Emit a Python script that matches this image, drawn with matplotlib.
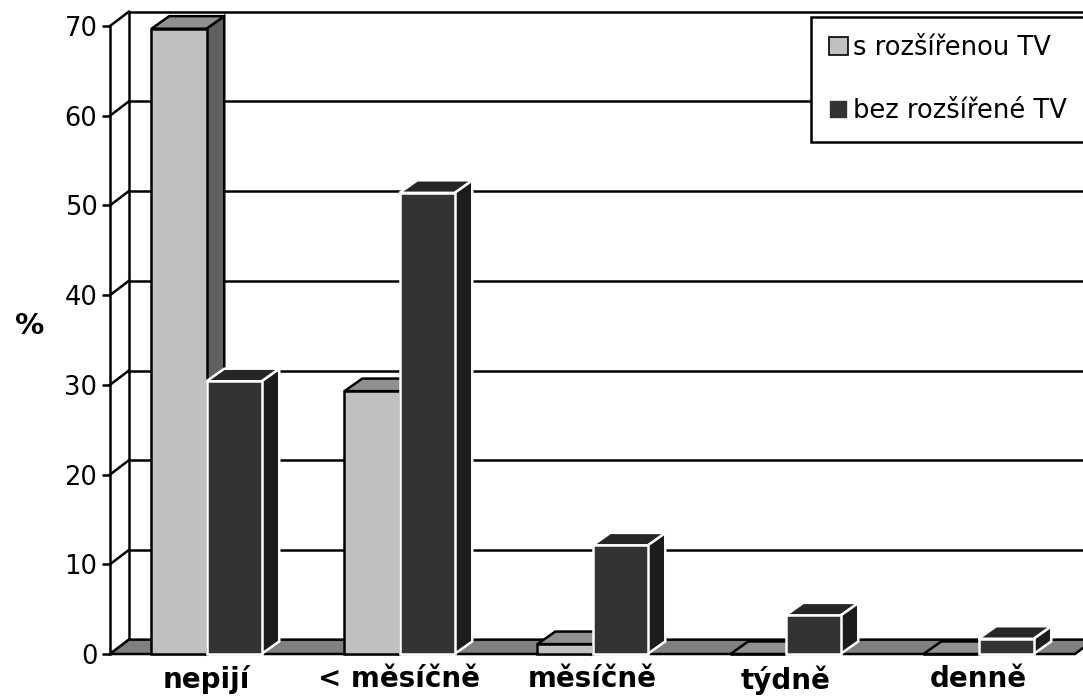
import numpy as np
import matplotlib.pyplot as plt
from matplotlib.patches import Polygon, Patch

# kategorie a podíly (%)
categories = ['nepijí', '< měsíčně', 'měsíčně', 'týdně', 'denně']
s_tv = [69.7, 29.3, 1.1, 0.0, 0.0]
bez_tv = [30.4, 51.4, 12.1, 4.3, 1.7]
series_names = ['s rozšířenou TV', 'bez rozšířené TV']
yticks = np.arange(0, 71, 10)

# barvy stěn sloupců: (čelo, vršek, bok, hrany)
light = ('#c0c0c0', '#909090', '#606060', 'black')
dark = ('#333333', '#262626', '#1c1c1c', 'white')

plt.rcParams['font.family'] = ['DejaVu Sans']

fig = plt.figure(figsize=(10.83, 7.0), dpi=100)
ax = fig.add_axes([110 / 1083, 46 / 700, 965 / 1083, 628 / 700])
ax.set_xlim(-0.5, 4.5)
ax.set_ylim(0, 70)

# hloubka "3D" efektu v datových jednotkách
dx, dy = 0.098, 1.6
bw = 0.285          # šířka jednoho sloupce
bdx, bdy = 0.092, 1.4

x0, x1 = -0.5, 4.5
lw = 1.8

# zadní stěna - mřížka
for v in yticks:
    ax.plot([x0 + dx, x1 + dx], [v + dy, v + dy], color='black', lw=lw,
            clip_on=False, zorder=1)
ax.plot([x0 + dx, x0 + dx], [dy, 70 + dy], color='black', lw=lw,
        clip_on=False, zorder=1)
# boční stěna - šikmé čáry
for v in yticks:
    ax.plot([x0, x0 + dx], [v, v + dy], color='black', lw=lw,
            clip_on=False, zorder=1)

# podlaha
floor = Polygon([(x0, 0), (x1, 0), (x1 + dx, dy), (x0 + dx, dy)],
                closed=True, facecolor='#808080', edgecolor='black',
                lw=lw, clip_on=False, zorder=2)
ax.add_patch(floor)


def bar3d(left, h, colors):
    face, top, side, edge = colors
    r = left + bw
    ax.add_patch(Polygon([(r, 0), (r + bdx, bdy), (r + bdx, h + bdy), (r, h)],
                         facecolor=side, edgecolor=edge, lw=lw,
                         clip_on=False, zorder=3))
    ax.add_patch(Polygon([(left, h), (r, h), (r + bdx, h + bdy),
                          (left + bdx, h + bdy)],
                         facecolor=top, edgecolor=edge, lw=lw,
                         clip_on=False, zorder=3))
    ax.add_patch(Polygon([(left, 0), (r, 0), (r, h), (left, h)],
                         facecolor=face, edgecolor=edge, lw=lw,
                         clip_on=False, zorder=3))


for i in range(len(categories)):
    bar3d(i - bw, s_tv[i], light)
    bar3d(i, bez_tv[i], dark)

# osy
for s in ['top', 'right', 'bottom']:
    ax.spines[s].set_visible(False)
ax.spines['left'].set_linewidth(lw)
ax.spines['left'].set_zorder(5)
ax.set_yticks(yticks)
ax.tick_params(axis='y', length=6, width=lw, labelsize=18.5, pad=3)
ax.set_xticks(range(len(categories)))
ax.set_xticklabels(categories, fontsize=20, fontweight='bold')
ax.tick_params(axis='x', length=0, pad=8)
ax.set_ylabel('%', rotation=0, fontsize=21, fontweight='bold')
ax.yaxis.set_label_coords(-0.083, 0.5)
ax.patch.set_visible(False)

handles = [Patch(facecolor=light[0], edgecolor='black', lw=1.2),
           Patch(facecolor=dark[0], edgecolor='white', lw=1.2)]
leg = fig.legend(handles, series_names, loc='upper left',
                 bbox_to_anchor=(811 / 1083, 1 - 17 / 700),
                 fontsize=18.5, frameon=True, fancybox=False,
                 edgecolor='black', framealpha=1, borderpad=0.7,
                 handlelength=0.75, handleheight=0.75, handletextpad=0.2,
                 labelspacing=1.45, borderaxespad=0)
leg.get_frame().set_linewidth(lw)

fig.savefig('out.png', dpi=100)
